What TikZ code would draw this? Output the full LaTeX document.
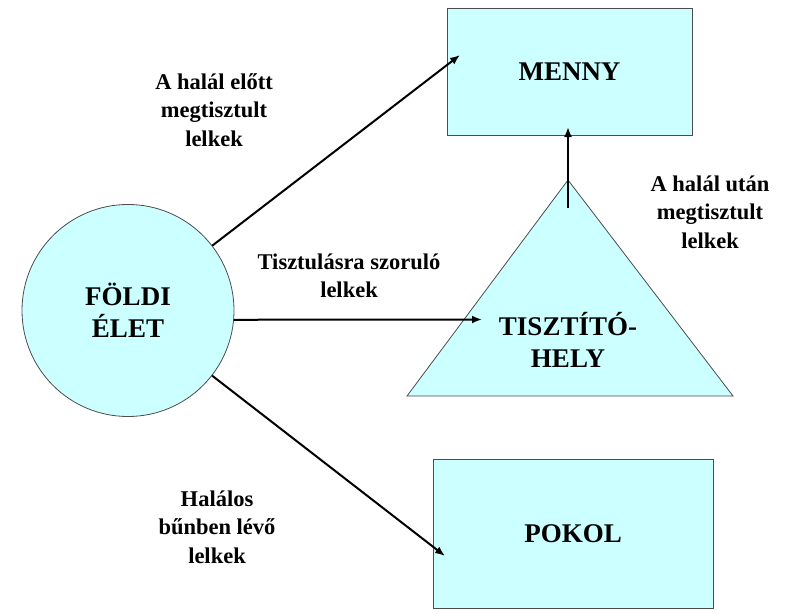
\documentclass[tikz,border=0pt]{standalone}
\usepackage{fontspec}
\setmainfont{Liberation Serif}
\usepackage{xcolor}
\usepackage{tikz}
\usetikzlibrary{arrows.meta}
\definecolor{egkek}{RGB}{204,255,255}

\begin{document}
\begin{tikzpicture}[x=1pt,y=-1pt]
    \tikzstyle{felirat}=[font=\bfseries\fontsize{22.5}{28.5}\selectfont,align=center]
    \tikzstyle{nagy}=[font=\bfseries\fontsize{27}{32}\selectfont,align=center]
    \tikzstyle{doboz}=[draw=black!70,line width=0.8pt,fill=egkek]

    \useasboundingbox (0,0) rectangle (795,613);

    \node[doboz,nagy,minimum width=245pt,minimum height=127pt] (menny) at (569.5,71.5) {MENNY};
    \node[doboz,nagy,minimum width=280pt,minimum height=149pt] (pokol) at (573,533.5) {POKOL};
    \node[doboz,nagy,circle,minimum size=212pt] (foldi) at (128,310.5) {FÖLDI\\ÉLET};

    \coordinate (tbal) at (407,396);
    \coordinate (tcsucs) at (568,180);
    \coordinate (tjobb) at (733,396);
    \draw[doboz] (tbal) -- (tcsucs) -- (tjobb) -- cycle;
    \node[nagy] (tisz) at (568,340) {TISZTÍTÓ-\\HELY};

    \node[felirat] (elott) at (214,110) {A halál előtt\\megtisztult\\lelkek};
    \node[felirat] (szorulo) at (349,276) {Tisztulásra szoruló\\lelkek};
    \node[felirat] (utan) at (710,212) {A halál után\\megtisztult\\lelkek};
    \node[felirat] (halalos) at (217,527) {Halálos\\bűnben lévő\\lelkek};

    \coordinate (mennybe) at (460,55);
    \coordinate (tiszbe) at (482,319.5);
    \coordinate (pokolba) at (445,556);
    \coordinate (csucsbol) at (568,208);
    \coordinate (mennyalja) at (568,127);

    \tikzstyle{fwd} = [draw=black, line width=2pt, -{Latex[length=10pt,width=8pt]}]

    \draw [fwd] (foldi) -- (mennybe);
    \draw [fwd] (foldi.-5) -- (tiszbe);
    \draw [fwd] (foldi) -- (pokolba);
    \draw [fwd] (csucsbol) -- (mennyalja);

\end{tikzpicture}
\end{document}
